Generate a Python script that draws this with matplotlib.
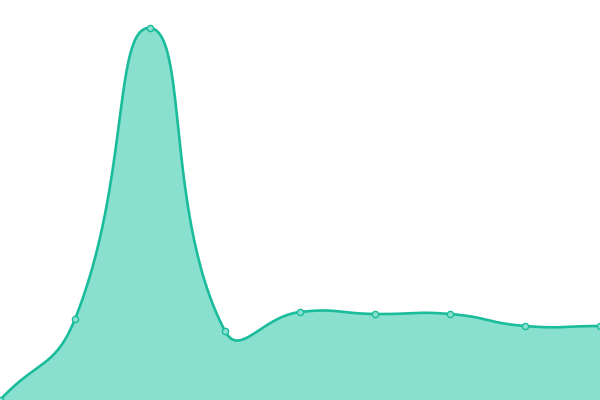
import numpy as np
import matplotlib
matplotlib.use("Agg")
import matplotlib.pyplot as plt

categories = ["A", "B", "C", "D", "E", "F", "G", "H", "I"]
values = [0, 81, 372, 69, 88, 86, 86, 74, 74]

LINE = "#1abc9c"
FILL = "#8ae0cf"

x = np.arange(len(values), dtype=float)
y = np.array(values, dtype=float)

fig = plt.figure(figsize=(6, 4), dpi=100)
ax = fig.add_axes([0, 0, 1, 1])
ax.set_xlim(0, len(values) - 1)
ax.set_ylim(0, 400)
ax.axis("off")

# smoothing in display-like coordinates (echarts-style bezier)
sx = 600 / (len(values) - 1)
P = np.column_stack([x * sx, y])
smooth = 0.5
n = len(P)
cps = []
for i in range(n):
    prev = P[i - 1] if i > 0 else P[i]
    nxt = P[i + 1] if i < n - 1 else P[i]
    v = nxt - prev
    d0 = np.linalg.norm(P[i] - prev)
    d1 = np.linalg.norm(nxt - P[i])
    s = d0 + d1
    if s == 0:
        cps.append((P[i], P[i]))
        continue
    c0 = P[i] - v * smooth * d0 / s
    c1 = P[i] + v * smooth * d1 / s
    cps.append((c0, c1))

t = np.linspace(0, 1, 60)[:, None]
pts = []
for i in range(n - 1):
    p0 = P[i]
    p1 = cps[i][1]
    p2 = cps[i + 1][0]
    p3 = P[i + 1]
    seg = (1 - t) ** 3 * p0 + 3 * (1 - t) ** 2 * t * p1 + 3 * (1 - t) * t ** 2 * p2 + t ** 3 * p3
    pts.append(seg if i == 0 else seg[1:])
curve = np.vstack(pts)
cx = curve[:, 0] / sx
cy = curve[:, 1]

ax.fill_between(cx, 0, cy, color=FILL, lw=0, zorder=1)
ax.plot(cx, cy, color=LINE, lw=1.9, zorder=2, solid_capstyle="round")
ax.scatter(x, y, s=20, facecolor=FILL, edgecolor=LINE, linewidths=1.0, zorder=3, clip_on=False)

fig.savefig("out.png", dpi=100)
